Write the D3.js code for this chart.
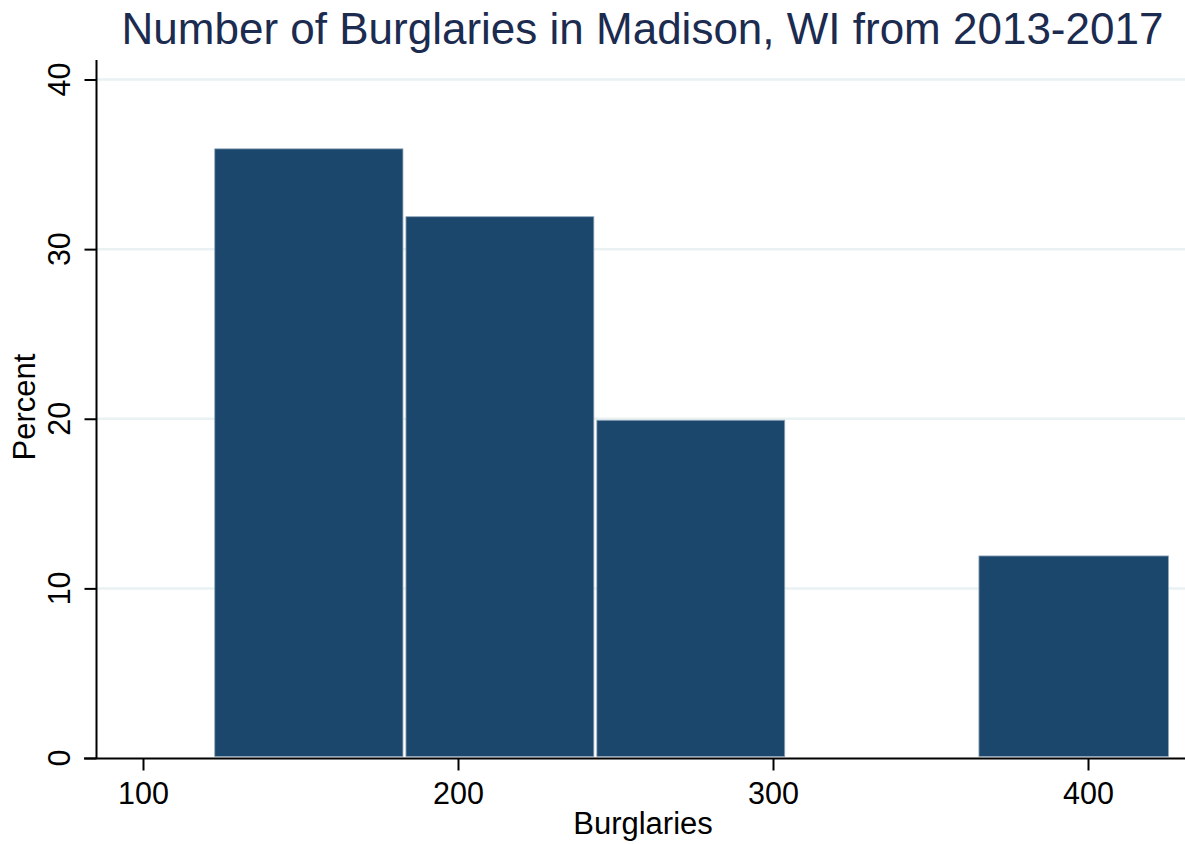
<!DOCTYPE html>
<html>
<head>
<meta charset="utf-8">
<script src="https://cdn.jsdelivr.net/npm/d3@7"></script>
<style>
  body { margin: 0; background: #fff; }
  text { font-family: "Liberation Sans", Arial, sans-serif; }
</style>
</head>
<body>
<div id="chart"></div>
<script>
// histogram bins (Burglaries) and percent per bin
var binEdges = [122.3, 183, 243.6, 304.2, 364.9, 426];
var percents = [36, 32, 20, 0, 12];
var xTicks = [100, 200, 300, 400];
var yTicks = [0, 10, 20, 30, 40];

var W = 1185, H = 844;
var barFill = "#1c476d", barEdge = "#8fa6ba", grid = "#eaf1f3";

var svg = d3.select("#chart").append("svg")
  .attr("width", W).attr("height", H);

var x = d3.scaleLinear().domain([100, 400]).range([143, 1088]);
var y = d3.scaleLinear().domain([0, 40]).range([758, 79.5]);

// gridlines
svg.selectAll("line.grid")
  .data(yTicks.filter(function(d) { return d > 0; }))
  .enter().append("line")
  .attr("class", "grid")
  .attr("x1", 97).attr("x2", W)
  .attr("y1", function(d) { return y(d); })
  .attr("y2", function(d) { return y(d); })
  .attr("stroke", grid).attr("stroke-width", 2.5);

// bars
var bins = percents.map(function(p, i) {
  return { x0: binEdges[i], x1: binEdges[i + 1], p: p };
}).filter(function(d) { return d.p > 0; });

svg.selectAll("rect.bar")
  .data(bins)
  .enter().append("rect")
  .attr("class", "bar")
  .attr("x", function(d) { return x(d.x0) + 1.5; })
  .attr("width", function(d) { return x(d.x1) - x(d.x0) - 3; })
  .attr("y", function(d) { return y(d.p) + 1.5; })
  .attr("height", function(d) { return y(0) - y(d.p) - 3; })
  .attr("fill", barFill)
  .attr("stroke", barEdge).attr("stroke-width", 0.8);

// y axis
var yAxis = svg.append("g").attr("transform", "translate(96.5,0)")
  .call(d3.axisLeft(y).tickValues(yTicks).tickSize(12).tickSizeOuter(0));
yAxis.select(".domain").remove();
yAxis.selectAll(".tick line").attr("stroke", "#000").attr("stroke-width", 2);
yAxis.selectAll(".tick text").remove();
svg.append("line")
  .attr("x1", 96.5).attr("x2", 96.5).attr("y1", 60).attr("y2", 759)
  .attr("stroke", "#000").attr("stroke-width", 2);

svg.selectAll("text.ytick")
  .data(yTicks)
  .enter().append("text")
  .attr("class", "ytick")
  .attr("transform", function(d) { return "translate(70," + y(d) + ") rotate(-90)"; })
  .attr("text-anchor", "middle")
  .attr("font-size", 30.5)
  .attr("fill", "#000")
  .text(function(d) { return d; });

// x axis
var xAxis = svg.append("g").attr("transform", "translate(0,758.5)")
  .call(d3.axisBottom(x).tickValues(xTicks).tickSize(12).tickSizeOuter(0).tickFormat(d3.format("d")));
xAxis.select(".domain").remove();
xAxis.selectAll(".tick line").attr("stroke", "#000").attr("stroke-width", 2);
xAxis.selectAll(".tick text")
  .attr("font-size", 30.5)
  .attr("font-family", "'Liberation Sans', Arial, sans-serif")
  .attr("fill", "#000")
  .attr("y", 45.5).attr("dy", 0);
svg.append("line")
  .attr("x1", 84).attr("x2", W).attr("y1", 758.5).attr("y2", 758.5)
  .attr("stroke", "#000").attr("stroke-width", 2);

// titles
svg.append("text")
  .attr("x", 642.5).attr("y", 44)
  .attr("text-anchor", "middle")
  .attr("font-size", 44)
  .attr("fill", "#1c2b50")
  .text("Number of Burglaries in Madison, WI from 2013-2017");

svg.append("text")
  .attr("x", 643).attr("y", 834)
  .attr("text-anchor", "middle")
  .attr("font-size", 31)
  .attr("fill", "#000")
  .text("Burglaries");

svg.append("text")
  .attr("transform", "translate(35,407) rotate(-90)")
  .attr("text-anchor", "middle")
  .attr("font-size", 31)
  .attr("fill", "#000")
  .text("Percent");
</script>
</body>
</html>
